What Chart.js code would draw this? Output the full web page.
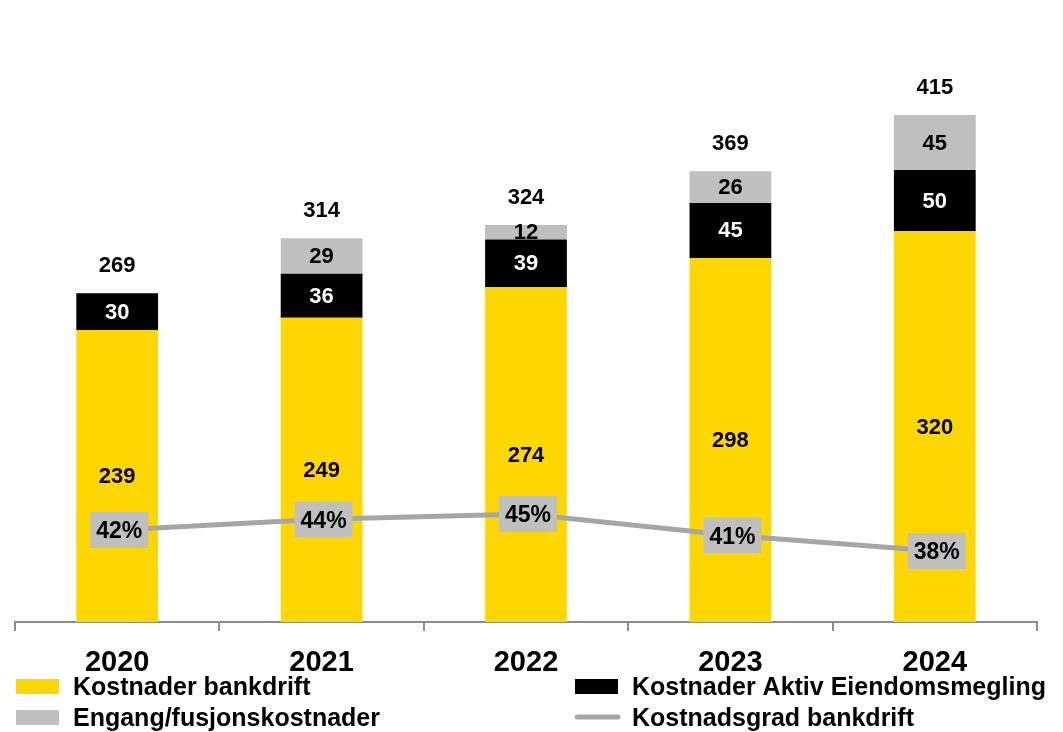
<!DOCTYPE html>
<html>
<head>
<meta charset="utf-8">
<script src="https://cdn.jsdelivr.net/npm/chart.js@4.4.1/dist/chart.umd.min.js"></script>
<style>
    html, body { margin: 0; padding: 0; background: #fff; }
    #wrap { position: relative; width: 1063px; height: 732px; }
</style>
</head>
<body>
<div id="wrap"><canvas id="costChart" width="1063" height="732"></canvas></div>
<script>
// Years and cost components (mill. kr)
const years = ['2020', '2021', '2022', '2023', '2024'];
const bankCosts = [239, 249, 274, 298, 320];
const aktivCosts = [30, 36, 39, 45, 50];
const oneOffCosts = [0, 29, 12, 26, 45];
const totals = [269, 314, 324, 369, 415];
// Cost/income ratio, banking (%)
const costRatio = [42, 44, 45, 41, 38];

const FONT = '"Liberation Sans", Arial, sans-serif';
const YELLOW = '#FFD700';
const GREY = '#BFBFBF';
const LINE_GREY = '#A6A6A6';

// Value labels: centred in each bar segment, totals above the stack, boxed ratio labels
const labelPlugin = {
    id: 'valueLabels',
    afterDatasetsDraw(chart) {
        const ctx = chart.ctx;
        ctx.save();
        ctx.font = 'bold 22px ' + FONT;
        ctx.textAlign = 'center';
        ctx.textBaseline = 'middle';

        const textColors = ['#000', '#fff', '#000'];
        [0, 1, 2].forEach(di => {
            const meta = chart.getDatasetMeta(di);
            const values = chart.data.datasets[di].data;
            meta.data.forEach((bar, i) => {
                if (!values[i]) return;
                ctx.fillStyle = textColors[di];
                ctx.fillText(values[i], bar.x, (bar.y + bar.base) / 2 + 1);
            });
        });

        // totals above the highest segment
        years.forEach((y, i) => {
            let top = Infinity, x = 0;
            [0, 1, 2].forEach(di => {
                const bar = chart.getDatasetMeta(di).data[i];
                if (chart.data.datasets[di].data[i]) top = Math.min(top, bar.y);
                x = bar.x;
            });
            ctx.fillStyle = '#000';
            ctx.fillText(totals[i], x, top - 27);
        });

        // ratio labels in grey boxes
        ctx.font = 'bold 23px ' + FONT;
        const lineMeta = chart.getDatasetMeta(3);
        lineMeta.data.forEach((pt, i) => {
            const bx = pt.x + 2, by = pt.y;
            ctx.fillStyle = GREY;
            ctx.fillRect(bx - 29, by - 18, 58, 36);
            ctx.fillStyle = '#000';
            ctx.fillText(costRatio[i] + '%', bx, by + 2);
        });
        ctx.restore();
    }
};

// Two-column legend under the axis labels
const legendPlugin = {
    id: 'bottomLegend',
    afterDraw(chart) {
        const ctx = chart.ctx;
        ctx.save();
        ctx.font = 'bold 25px ' + FONT;
        ctx.textBaseline = 'middle';
        ctx.textAlign = 'left';

        const items = [
            { type: 'box', color: YELLOW, x: 16, y: 687, text: 'Kostnader bankdrift' },
            { type: 'box', color: GREY, x: 16, y: 718, text: 'Engang/fusjonskostnader' },
            { type: 'box', color: '#000', x: 575, y: 687, text: 'Kostnader Aktiv Eiendomsmegling' },
            { type: 'line', color: LINE_GREY, x: 575, y: 718, text: 'Kostnadsgrad bankdrift' }
        ];
        items.forEach(it => {
            if (it.type === 'box') {
                ctx.fillStyle = it.color;
                ctx.fillRect(it.x, it.y - 8, 43, 15);
            } else {
                ctx.strokeStyle = it.color;
                ctx.lineWidth = 5;
                ctx.lineCap = 'round';
                ctx.beginPath();
                ctx.moveTo(it.x + 2, it.y - 1);
                ctx.lineTo(it.x + 43, it.y - 1);
                ctx.stroke();
            }
            ctx.fillStyle = '#000';
            ctx.fillText(it.text, it.x + 57, it.y + 1);
        });
        ctx.restore();
    }
};

const ctx = document.getElementById('costChart').getContext('2d');
new Chart(ctx, {
    data: {
        labels: years,
        datasets: [
            { type: 'bar', label: 'Kostnader bankdrift', data: bankCosts, backgroundColor: YELLOW, yAxisID: 'y', order: 1 },
            { type: 'bar', label: 'Kostnader Aktiv Eiendomsmegling', data: aktivCosts, backgroundColor: '#000', yAxisID: 'y', order: 1 },
            { type: 'bar', label: 'Engang/fusjonskostnader', data: oneOffCosts, backgroundColor: GREY, yAxisID: 'y', order: 1 },
            {
                type: 'line', label: 'Kostnadsgrad bankdrift', data: costRatio, yAxisID: 'y1', order: 0,
                borderColor: LINE_GREY, borderWidth: 5, pointRadius: 0, tension: 0, fill: false
            }
        ]
    },
    options: {
        responsive: false,
        animation: false,
        events: [],
        layout: { padding: { top: 60, left: 15, right: 26, bottom: 0 } },
        datasets: { bar: { categoryPercentage: 1, barPercentage: 0.4 } },
        plugins: { legend: { display: false }, tooltip: { enabled: false } },
        scales: {
            x: {
                stacked: true,
                offset: true,
                grid: { offset: true, drawOnChartArea: false, drawTicks: true, tickLength: 9, color: '#8C8C8C', lineWidth: 2 },
                border: { color: '#8C8C8C', width: 2 },
                ticks: { color: '#000', font: { family: FONT, size: 29, weight: 'bold' }, padding: 15 },
                afterFit: scale => { scale.height = 110; }
            },
            y: { stacked: true, display: false, min: 0, max: 460 },
            y1: { display: false, min: 24.6, max: 130.8 }
        }
    },
    plugins: [labelPlugin, legendPlugin]
});
</script>
</body>
</html>
